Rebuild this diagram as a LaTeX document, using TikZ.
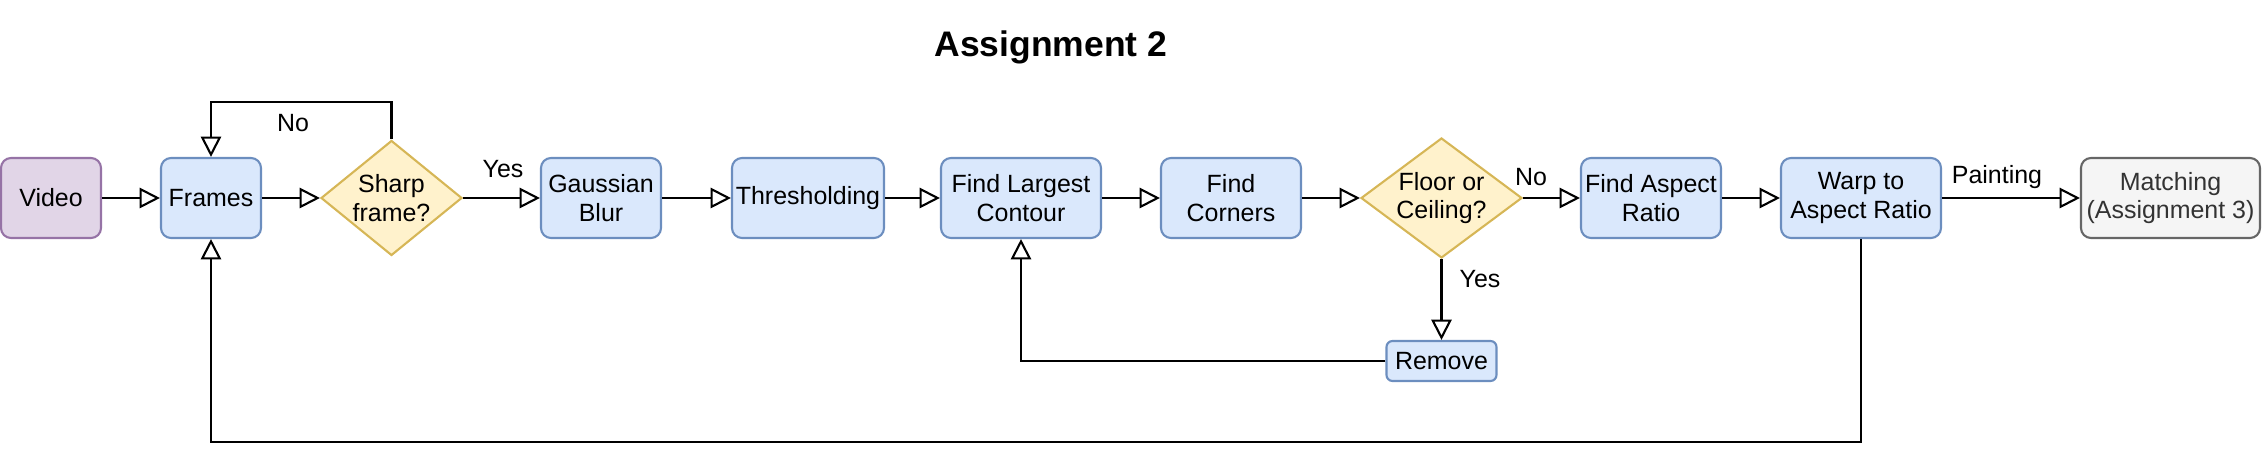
\documentclass[tikz,border=0pt]{standalone}
\usepackage{fontspec}
\setmainfont{Liberation Sans}
\usetikzlibrary{arrows.meta,shapes.geometric}
\definecolor{procFill}{RGB}{218,232,252}
\definecolor{procLine}{RGB}{108,142,191}
\definecolor{srcFill}{RGB}{225,213,231}
\definecolor{srcLine}{RGB}{150,115,166}
\definecolor{decFill}{RGB}{255,242,204}
\definecolor{decLine}{RGB}{214,182,86}
\definecolor{extFill}{RGB}{245,245,245}
\definecolor{extLine}{RGB}{102,102,102}
\definecolor{extText}{RGB}{51,51,51}

\begin{document}
\begin{tikzpicture}[every node/.style={font=\fontsize{7.1}{8.1}\selectfont},
    proc/.style={draw=procLine, fill=procFill, line width=0.6pt, rounded corners=0.1cm,
      align=center, inner sep=0pt, minimum height=0.8cm},
    decision/.style={diamond, draw=decLine, fill=decFill, line width=0.6pt, inner sep=0pt},
    flow/.style={-{Triangle[open, length=5.8pt, width=5.8pt]}, line width=0.6pt}]
    \useasboundingbox (0,0) rectangle (22.62,4.62);
    % title
    \node[font=\fontsize{10.1}{12}\selectfont\bfseries] (title) at (10.51,4.15) {Assignment 2};
    % main row of steps
    \node[proc, draw=srcLine, fill=srcFill, minimum width=1.0cm] (video) at (0.51,2.64) {Video};
    \node[proc, minimum width=1.0cm] (frames) at (2.11,2.64) {Frames};
    \node[decision, minimum width=1.41cm, minimum height=1.15cm,
      label={[align=center]center:Sharp\\frame?}] (sharp) at (3.915,2.64) {};
    \node[proc, minimum width=1.2cm] (gauss) at (6.01,2.64) {Gaussian\\Blur};
    \node[proc, minimum width=1.52cm] (thresh) at (8.08,2.64) {Thresholding};
    \node[proc, minimum width=1.6cm] (largest) at (10.21,2.64) {Find Largest\\Contour};
    \node[proc, minimum width=1.4cm] (corners) at (12.31,2.64) {Find\\Corners};
    \node[decision, minimum width=1.61cm, minimum height=1.2cm,
      label={[align=center]center:Floor or\\Ceiling?}] (floor) at (14.415,2.64) {};
    \node[proc, minimum width=1.4cm] (aspect) at (16.51,2.64) {Find Aspect\\Ratio};
    \node[proc, minimum width=1.6cm] (warp) at (18.61,2.64) {Warp to\\Aspect Ratio};
    \node[proc, draw=extLine, fill=extFill, text=extText, minimum width=1.79cm] (match) at (21.705,2.64) {Matching\\(Assignment 3)};
    \node[proc, rounded corners=0.06cm, minimum width=1.1cm, minimum height=0.4cm] (remove) at (14.415,1.01) {Remove};
    % straight arrows along the row
    \foreach \a/\b in {video/frames, frames/sharp, sharp/gauss, gauss/thresh, thresh/largest,
        largest/corners, corners/floor, floor/aspect, aspect/warp, warp/match}
      \draw[flow] (\a.east) -- (\b.west);
    % loops back
    \draw[flow] (sharp.north) -- ++(0,0.375) -| (frames.north);
    \draw[flow] (floor.south) -- (remove.north);
    \draw[flow] (remove.west) -| (largest.south);
    \draw[flow] (warp.south) -- ++(0,-2.03) -| (frames.south);
    % edge labels
    \node (no1) at (2.93,3.39) {No};
    \node (yes1) at (5.03,2.93) {Yes};
    \node (no2) at (15.31,2.85) {No};
    \node (yes2) at (14.80,1.83) {Yes};
    \node (paint) at (19.97,2.85) {Painting};
  \end{tikzpicture}
\end{document}
